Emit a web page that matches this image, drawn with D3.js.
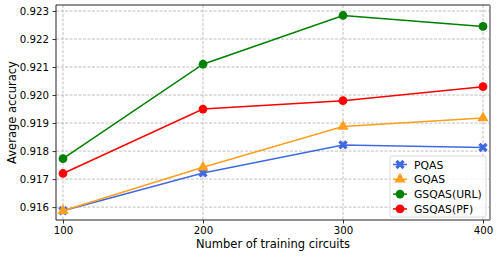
<!DOCTYPE html>
<html><head><meta charset="utf-8">
<script src="https://cdn.jsdelivr.net/npm/d3@7"></script>
<style>body{margin:0;background:#fff}svg{display:block;font-family:"DejaVu Sans",sans-serif}</style>
</head><body><svg id="c" width="499" height="257"></svg>
<script>
const xValues = [100, 200, 300, 400];
const xTicks = [100, 200, 300, 400];
const yTicks = [0.916, 0.917, 0.918, 0.919, 0.920, 0.921, 0.922, 0.923];
const seriesNames = ["PQAS", "GQAS", "GSQAS(URL)", "GSQAS(PF)"];
const pqas = [0.91587, 0.91722, 0.91822, 0.91813];
const gqas = [0.91587, 0.91742, 0.91888, 0.91918];
const gsqasURL = [0.91773, 0.92110, 0.92284, 0.92245];
const gsqasPF = [0.91720, 0.91950, 0.91980, 0.92030];
const colors = ["#4169e1", "#ff9f1c", "#008000", "#ff0000"];
const markers = ["x", "triangle", "circle", "circle"];

const series = [pqas, gqas, gsqasURL, gsqasPF].map((v, i) => ({name: seriesNames[i], values: v, color: colors[i], marker: markers[i]}));

const svg = d3.select("#c");
const L = 56, R = 490, T = 5, B = 220;
const x = d3.scaleLinear().domain([95, 405]).range([L, R]);
const y = d3.scaleLinear().domain([0.91554, 0.923214]).range([B, T]);

// grid
const g = svg.append("g");
g.selectAll(".gx").data(xTicks).join("line")
  .attr("x1", d => x(d)).attr("x2", d => x(d)).attr("y1", T).attr("y2", B)
  .attr("stroke", "#b0b0b0").attr("stroke-width", 0.8).attr("stroke-dasharray", "3,1.5");
g.selectAll(".gy").data(yTicks).join("line")
  .attr("y1", d => y(d)).attr("y2", d => y(d)).attr("x1", L).attr("x2", R)
  .attr("stroke", "#b0b0b0").attr("stroke-width", 0.8).attr("stroke-dasharray", "3,1.5");

// axes
const tfs = 10.2, lfs = 11.5;
const xa = svg.append("g").attr("transform", `translate(0,${B})`)
  .call(d3.axisBottom(x).tickValues(xTicks).tickSize(3.5).tickPadding(3.5).tickFormat(d3.format("d")));
const ya = svg.append("g").attr("transform", `translate(${L},0)`)
  .call(d3.axisLeft(y).tickValues(yTicks).tickSize(3.5).tickPadding(3.5).tickFormat(d3.format(".3f")));
[xa, ya].forEach(a => {
  a.select(".domain").remove();
  a.selectAll("text").attr("font-size", tfs).attr("fill", "#000").attr("font-family", "DejaVu Sans");
  a.selectAll("line").attr("stroke", "#000").attr("stroke-width", 0.8);
});

// lines & markers
const line = d3.line().x((d, i) => x(xValues[i])).y(d => y(d));
function markerPath(type) {
  if (type === "circle") return d3.symbol(d3.symbolCircle, 60)();
  if (type === "triangle") return d3.symbol(d3.symbolTriangle, 55)();
  return d3.symbol(d3.symbolCross, 55)();
}
function markerRot(type) { return type === "x" ? 45 : 0; }

series.forEach(s => {
  svg.append("path").datum(s.values).attr("d", line)
    .attr("fill", "none").attr("stroke", s.color).attr("stroke-width", 1.5);
  svg.selectAll(null).data(s.values).join("path")
    .attr("d", markerPath(s.marker))
    .attr("transform", (d, i) => `translate(${x(xValues[i])},${y(d)}) rotate(${markerRot(s.marker)})`)
    .attr("fill", s.color);
});

// frame
svg.append("line").attr("x1", L).attr("x2", L).attr("y1", T).attr("y2", B).attr("stroke", "#222").attr("stroke-width", 1);
svg.append("line").attr("x1", L).attr("x2", R).attr("y1", T).attr("y2", T).attr("stroke", "#222").attr("stroke-width", 1);
svg.append("line").attr("x1", L).attr("x2", R).attr("y1", B).attr("y2", B).attr("stroke", "#222").attr("stroke-width", 1);
svg.append("line").attr("x1", R).attr("x2", R).attr("y1", T).attr("y2", B).attr("stroke", "#999").attr("stroke-width", 2);

// labels
svg.append("text").attr("x", (L + R) / 2).attr("y", 248).attr("text-anchor", "middle")
  .attr("font-size", lfs).text("Number of training circuits");
svg.append("text").attr("transform", `translate(15.5,${(T + B) / 2}) rotate(-90)`).attr("text-anchor", "middle")
  .attr("font-size", lfs).text("Average accuracy");

// legend
const lg = svg.append("g").attr("transform", "translate(390,156)");
lg.append("rect").attr("width", 96).attr("height", 61).attr("rx", 2)
  .attr("fill", "#fff").attr("fill-opacity", 0.8).attr("stroke", "#d0d0d0").attr("stroke-width", 0.8);
series.forEach((s, i) => {
  const cy = 8.5 + i * 14.8;
  lg.append("line").attr("x1", 3).attr("x2", 17).attr("y1", cy).attr("y2", cy).attr("stroke", s.color).attr("stroke-width", 1.5);
  lg.append("path").attr("d", markerPath(s.marker)).attr("transform", `translate(10,${cy}) rotate(${markerRot(s.marker)})`).attr("fill", s.color);
  lg.append("text").attr("x", 24).attr("y", cy + 4).attr("font-size", 10.8).text(s.name);
});
</script></body></html>
